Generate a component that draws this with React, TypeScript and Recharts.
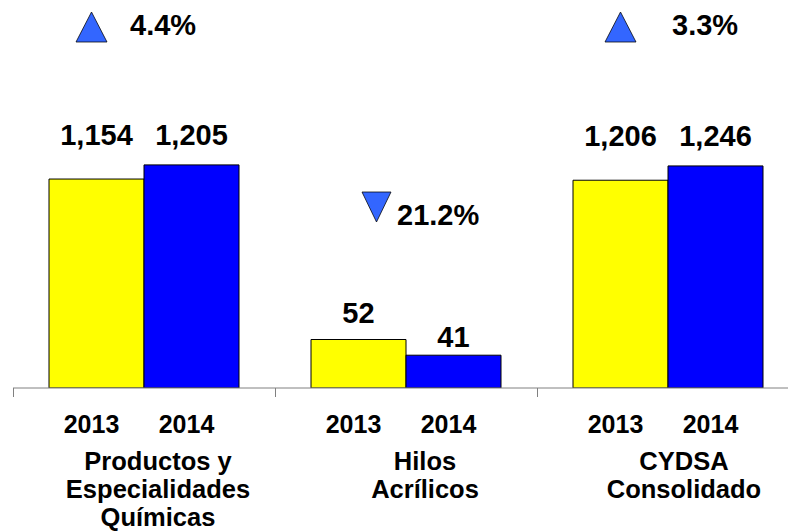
import React from 'react'
import { BarChart, Bar, XAxis, YAxis, Cell, LabelList } from 'recharts'

// values
const years = ['2013', '2014']
const groupNames = [
  ['Productos y', 'Especialidades', 'Químicas'],
  ['Hilos', 'Acrílicos'],
  ['CYDSA', 'Consolidado'],
]
const values2013 = [1154, 52, 1206]
const values2014 = [1205, 41, 1246]

const barColors = ['#FFFF00', '#0000FF']
const FONT = '"Liberation Sans", Arial, sans-serif'

// each group sits on its own cut y-axis in the original
const yDomains: [number, number][] = [[400, 1800], [18, 290], [625, 1710]]
const panelLeft = [13, 275, 537]
const PANEL_W = 262
const AXIS_Y = 388
const labelLift = [[34, 20], [17, 8], [34, 20]]
const nameCenter = [158, 425, 684]
const arrowPos = [
  { tx: 76, ty: 12, lx: 130, ly: 35 },
  { tx: 362, ty: 192, lx: 397, ly: 225 },
  { tx: 605, ty: 12, lx: 672, ly: 35 },
]

const fmt = (v: number) => v.toLocaleString('en-US')

const YearTick = (props: any) => {
  const { x, y, payload } = props
  return (
    <text x={x - 5} y={y} dy="0.71em" textAnchor="middle" fontFamily={FONT} fontWeight="bold" fontSize={25} fill="#000">
      {payload.value}
    </text>
  )
}

const Panel = ({ g }: { g: number }) => {
  const data = years.map((year, i) => ({ year, value: i === 0 ? values2013[g] : values2014[g] }))
  const lifts = labelLift[g]
  return (
    <div style={{ position: 'absolute', left: panelLeft[g], top: 0 }}>
      <BarChart width={PANEL_W} height={AXIS_Y + 72} data={data} margin={{ top: 0, right: 0, bottom: 0, left: 0 }} barCategoryGap={0}>
        <XAxis
          dataKey="year"
          padding={{ left: 36, right: 36 }}
          tickLine={false}
          axisLine={{ stroke: '#808080' }}
          tick={<YearTick />}
          tickMargin={21}
          height={72}
          interval={0}
        />
        <YAxis hide domain={yDomains[g]} allowDataOverflow />
        <Bar dataKey="value" stroke="#000" strokeWidth={1} isAnimationActive={false}>
          {data.map((d, i) => (
            <Cell key={d.year} fill={barColors[i]} />
          ))}
          <LabelList
            dataKey="value"
            content={(p: any) => (
              <text
                x={p.x + p.width / 2}
                y={p.y - lifts[p.index]}
                textAnchor="middle"
                fontFamily={FONT}
                fontWeight="bold"
                fontSize={29}
                fill="#000"
              >
                {fmt(p.value)}
              </text>
            )}
          />
        </Bar>
      </BarChart>
    </div>
  )
}

const App = () => {
  return (
    <div style={{ position: 'absolute', left: 0, top: 0, width: 788, height: 531, overflow: 'hidden', background: '#fff' }}>
      {groupNames.map((_, g) => (
        <Panel key={g} g={g} />
      ))}
      <svg width={788} height={531} style={{ position: 'absolute', left: 0, top: 0, pointerEvents: 'none' }}>
        {panelLeft.map((x) => (
          <line key={x} x1={x + 0.5} x2={x + 0.5} y1={AXIS_Y} y2={AXIS_Y + 9} stroke="#808080" />
        ))}
        {groupNames.map((_, g) => {
          const change = ((values2014[g] - values2013[g]) / values2013[g]) * 100
          const { tx, ty, lx, ly } = arrowPos[g]
          const path = change >= 0
            ? `M${tx},${ty + 30} L${tx + 15.5},${ty} L${tx + 31},${ty + 30} Z`
            : `M${tx},${ty} L${tx + 29},${ty} L${tx + 14.5},${ty + 30} Z`
          return (
            <g key={'chg' + g}>
              <path d={path} fill="#3366FF" stroke="#000" strokeWidth={0.75} />
              <text x={lx} y={ly} fontFamily={FONT} fontWeight="bold" fontSize={29} fill="#000">
                {Math.abs(change).toFixed(1)}%
              </text>
            </g>
          )
        })}
        {groupNames.map((lines, g) => (
          <text key={'n' + g} textAnchor="middle" fontFamily={FONT} fontWeight="bold" fontSize={25.5} fill="#000">
            {lines.map((l, i) => (
              <tspan key={l} x={nameCenter[g]} y={470 + i * 28}>
                {l}
              </tspan>
            ))}
          </text>
        ))}
      </svg>
    </div>
  )
}

export default App
